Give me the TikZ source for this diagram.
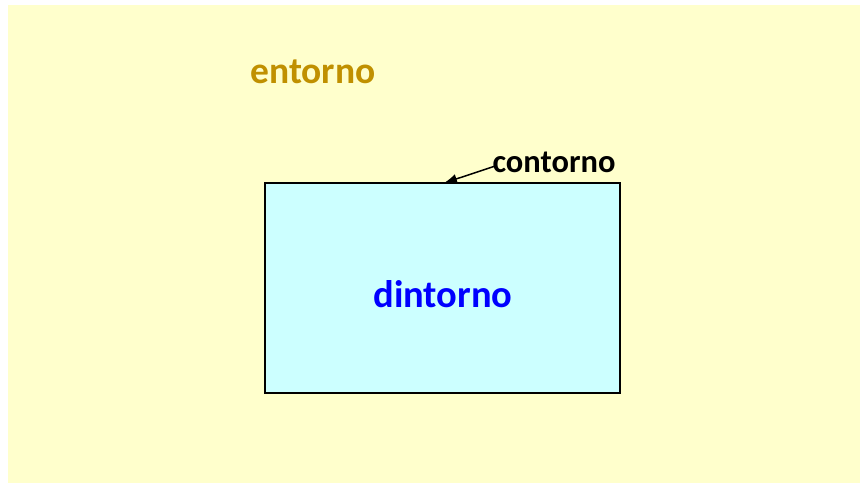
\documentclass[tikz,border=0pt]{standalone}
\usepackage{fontspec}
\usetikzlibrary{arrows.meta}
\setmainfont{Carlito}
\definecolor{bgyellow}{HTML}{FFFFCC}
\definecolor{boxcyan}{HTML}{CCFFFF}
\definecolor{gold}{HTML}{C09000}
\definecolor{dblue}{HTML}{0000FF}
\tikzset{
  lbl/.style={inner sep=0pt, anchor=center},
}
\begin{document}
\begin{tikzpicture}[x=1pt,y=-1pt]
\useasboundingbox (0,0) rectangle (860,483);
\fill[white] (0,0) rectangle (860,483);
\fill[bgyellow] (8,5) rectangle (860,483);
\node[draw=black, line width=2pt, fill=boxcyan, minimum width=355pt, minimum height=210pt, inner sep=0pt] (dint) at (442.5,288) {};
\node[lbl, text=dblue, font=\bfseries\fontsize{38.5}{42}\selectfont] (dlab) at (443,294) {dintorno};
\node[lbl, text=gold, font=\bfseries\fontsize{37.5}{42}\selectfont] (ent) at (313,72) {entorno};
\node[lbl, text=black, font=\bfseries\fontsize{32.5}{36}\selectfont] (cont) at (554,162) {contorno};
\coordinate (tip) at (444,183);
\draw[-{Latex[length=13pt,width=10pt]}, line width=1.5pt] (cont.west) ++(3,4) coordinate (cstart) -- (tip);
\end{tikzpicture}
\end{document}
